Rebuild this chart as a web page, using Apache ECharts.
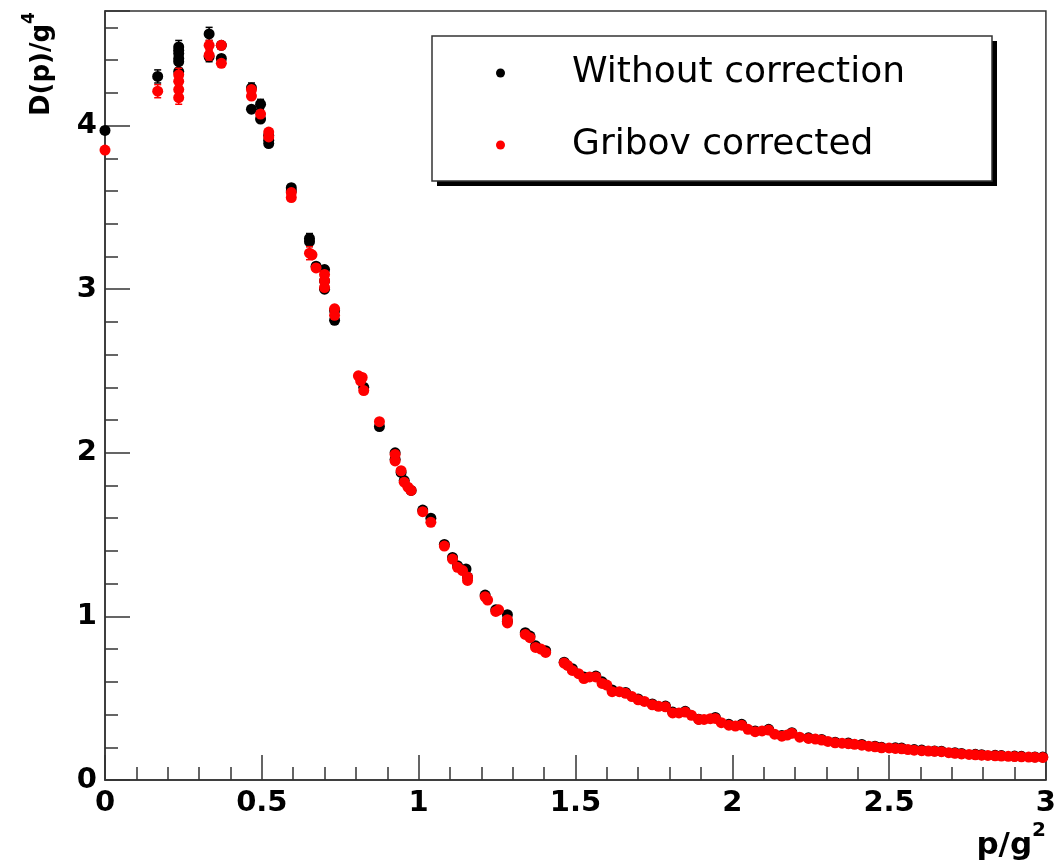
<!DOCTYPE html>
<html>
<head>
<meta charset="utf-8">
<script src="https://cdn.jsdelivr.net/npm/echarts@6/dist/echarts.min.js"></script>
<style>
  html, body { margin: 0; padding: 0; background: #fff; }
  #chart { width: 1059px; height: 862px; }
</style>
</head>
<body>
<div id="chart"></div>
<script>
// Each point: [p/g^2, D(p)/g^4, statistical error]
const withoutCorrection = [
  [0.000, 3.97, 0.02],
  [0.168, 4.30, 0.04],
  [0.235, 4.48, 0.04], [0.235, 4.46, 0.04], [0.235, 4.44, 0.04], [0.235, 4.41, 0.04], [0.235, 4.39, 0.04], [0.235, 4.33, 0.04],
  [0.332, 4.56, 0.04], [0.332, 4.42, 0.03],
  [0.371, 4.49, 0.02], [0.371, 4.41, 0.02],
  [0.467, 4.23, 0.03], [0.467, 4.10, 0.02],
  [0.496, 4.13, 0.03], [0.496, 4.04, 0.02],
  [0.522, 3.94, 0.02], [0.522, 3.91, 0.02], [0.522, 3.89, 0.02],
  [0.594, 3.62, 0.02], [0.594, 3.60, 0.02],
  [0.652, 3.31, 0.03], [0.652, 3.29, 0.03],
  [0.673, 3.14, 0.02],
  [0.700, 3.12, 0.02], [0.700, 3.05, 0.02], [0.700, 3.00, 0.02],
  [0.732, 2.87, 0.02], [0.732, 2.81, 0.02],
  [0.815, 2.46, 0.02], [0.825, 2.40, 0.02],
  [0.875, 2.16, 0.01],
  [0.925, 2.00, 0.01], [0.925, 1.96, 0.01],
  [0.944, 1.88, 0.01], [0.954, 1.83, 0.01], [0.976, 1.77, 0.01],
  [1.013, 1.65, 0.01], [1.039, 1.60, 0.01],
  [1.082, 1.44, 0.01], [1.108, 1.36, 0.01], [1.124, 1.31, 0.01], [1.151, 1.29, 0.01], [1.156, 1.24, 0.01],
  [1.212, 1.13, 0.01], [1.246, 1.04, 0.01], [1.283, 1.01, 0.01], [1.283, 0.97, 0.01],
  [1.340, 0.90, 0.01], [1.355, 0.88, 0.01], [1.373, 0.82, 0.01], [1.405, 0.79, 0.01],
  [1.464, 0.72, 0], [1.490, 0.68, 0], [1.527, 0.63, 0], [1.565, 0.635, 0], [1.585, 0.60, 0],
  [1.617, 0.55, 0], [1.660, 0.535, 0], [1.700, 0.495, 0], [1.745, 0.465, 0], [1.787, 0.452, 0],
  [1.810, 0.415, 0], [1.850, 0.42, 0], [1.893, 0.372, 0], [1.946, 0.382, 0], [1.989, 0.34, 0],
  [2.030, 0.34, 0], [2.073, 0.30, 0], [2.116, 0.31, 0], [2.158, 0.272, 0], [2.190, 0.289, 0],
  [2.243, 0.258, 0], [2.285, 0.248, 0], [2.328, 0.231, 0], [2.370, 0.226, 0], [2.413, 0.217, 0],
  [2.455, 0.207, 0], [2.476, 0.20, 0], [2.520, 0.197, 0], [2.540, 0.195, 0], [2.580, 0.186, 0],
  [2.604, 0.183, 0], [2.645, 0.178, 0], [2.667, 0.176, 0], [2.710, 0.167, 0], [2.731, 0.162, 0],
  [2.775, 0.157, 0], [2.795, 0.155, 0], [2.838, 0.151, 0], [2.858, 0.149, 0], [2.900, 0.146, 0],
  [2.922, 0.145, 0], [2.965, 0.141, 0], [2.990, 0.140, 0]
];

const gribovCorrected = [
  [0.000, 3.85, 0.01],
  [0.168, 4.21, 0.04],
  [0.235, 4.31, 0.04], [0.235, 4.27, 0.04], [0.235, 4.22, 0.04], [0.235, 4.17, 0.04],
  [0.332, 4.49, 0.03], [0.332, 4.43, 0.03],
  [0.371, 4.49, 0.02], [0.371, 4.38, 0.02],
  [0.467, 4.22, 0.02], [0.467, 4.18, 0.02],
  [0.496, 4.07, 0.02],
  [0.522, 3.96, 0.02], [0.522, 3.93, 0.02],
  [0.594, 3.59, 0.02], [0.594, 3.56, 0.02],
  [0.652, 3.22, 0.04], [0.660, 3.21, 0.02],
  [0.673, 3.13, 0.02],
  [0.700, 3.09, 0.02], [0.700, 3.05, 0.02], [0.700, 3.01, 0.02],
  [0.732, 2.88, 0.02], [0.732, 2.84, 0.02],
  [0.808, 2.47, 0.02], [0.815, 2.44, 0.02], [0.820, 2.46, 0.02], [0.825, 2.38, 0.02],
  [0.875, 2.19, 0.01],
  [0.925, 1.99, 0.01], [0.925, 1.95, 0.01],
  [0.944, 1.89, 0.01], [0.954, 1.82, 0.01], [0.966, 1.79, 0.01], [0.976, 1.77, 0.01],
  [1.013, 1.64, 0.01], [1.039, 1.575, 0.01],
  [1.082, 1.43, 0.01], [1.108, 1.35, 0.01], [1.124, 1.30, 0.01], [1.140, 1.28, 0.01], [1.156, 1.24, 0.01], [1.156, 1.22, 0.01],
  [1.212, 1.12, 0.01], [1.220, 1.10, 0.01], [1.246, 1.03, 0.01], [1.255, 1.04, 0.01], [1.283, 0.98, 0.01], [1.283, 0.96, 0.01],
  [1.340, 0.89, 0.01], [1.355, 0.87, 0.01], [1.373, 0.81, 0.01], [1.390, 0.80, 0.01], [1.405, 0.78, 0.01],
  [1.464, 0.715, 0], [1.475, 0.70, 0], [1.490, 0.67, 0], [1.510, 0.65, 0], [1.527, 0.62, 0],
  [1.545, 0.63, 0], [1.565, 0.63, 0], [1.585, 0.59, 0], [1.600, 0.58, 0], [1.617, 0.54, 0],
  [1.640, 0.54, 0], [1.660, 0.53, 0], [1.680, 0.51, 0], [1.700, 0.49, 0], [1.720, 0.48, 0],
  [1.745, 0.46, 0], [1.765, 0.45, 0], [1.787, 0.447, 0], [1.810, 0.41, 0], [1.830, 0.41, 0],
  [1.850, 0.415, 0], [1.870, 0.395, 0], [1.893, 0.37, 0], [1.910, 0.37, 0], [1.930, 0.375, 0],
  [1.946, 0.376, 0], [1.965, 0.35, 0], [1.989, 0.335, 0], [2.010, 0.33, 0], [2.030, 0.335, 0],
  [2.050, 0.31, 0], [2.073, 0.295, 0], [2.095, 0.30, 0], [2.116, 0.305, 0], [2.135, 0.28, 0],
  [2.158, 0.268, 0], [2.175, 0.275, 0], [2.190, 0.285, 0], [2.215, 0.262, 0], [2.243, 0.254, 0],
  [2.265, 0.25, 0], [2.285, 0.244, 0], [2.305, 0.236, 0], [2.328, 0.227, 0], [2.350, 0.225, 0],
  [2.370, 0.222, 0], [2.390, 0.218, 0], [2.413, 0.213, 0], [2.435, 0.207, 0], [2.455, 0.203, 0],
  [2.476, 0.197, 0], [2.500, 0.196, 0], [2.520, 0.193, 0], [2.540, 0.191, 0], [2.560, 0.186, 0],
  [2.580, 0.182, 0], [2.604, 0.179, 0], [2.625, 0.177, 0], [2.645, 0.175, 0], [2.667, 0.173, 0],
  [2.690, 0.167, 0], [2.710, 0.163, 0], [2.731, 0.159, 0], [2.755, 0.156, 0], [2.775, 0.154, 0],
  [2.795, 0.152, 0], [2.815, 0.150, 0], [2.838, 0.148, 0], [2.858, 0.146, 0], [2.880, 0.145, 0],
  [2.900, 0.143, 0], [2.922, 0.142, 0], [2.945, 0.140, 0], [2.965, 0.139, 0], [2.990, 0.138, 0]
];

const seriesNames = ['Without correction', 'Gribov corrected'];
const seriesColors = ['#000000', '#ff0000'];

const xRange = [0, 3];
const yRange = [0, 4.7];
const xMajorStep = 0.5;
const yMajorStep = 1;
const yMinorStep = 0.2;

const FONT = '"DejaVu Sans", sans-serif';
const AXIS_COLOR = '#333';

// vertical error bar with small end caps
function errorBarItem(color) {
  return function (params, api) {
    const x = api.value(0), y = api.value(1), e = api.value(2);
    if (!e) return null;
    const top = api.coord([x, y + e]);
    const bot = api.coord([x, y - e]);
    const cap = 3.5;
    const style = { stroke: color, lineWidth: 1.5 };
    return {
      type: 'group',
      children: [
        { type: 'line', shape: { x1: top[0], y1: top[1], x2: bot[0], y2: bot[1] }, style },
        { type: 'line', shape: { x1: top[0] - cap, y1: top[1], x2: top[0] + cap, y2: top[1] }, style },
        { type: 'line', shape: { x1: bot[0] - cap, y1: bot[1], x2: bot[0] + cap, y2: bot[1] }, style }
      ]
    };
  };
}

const datasets = [withoutCorrection, gribovCorrected];
const series = [];
datasets.forEach(function (data, i) {
  series.push({
    type: 'custom',
    renderItem: errorBarItem(seriesColors[i]),
    data: data,
    encode: { x: 0, y: 1 },
    z: 2 + i * 2,
    silent: true
  });
  series.push({
    name: seriesNames[i],
    type: 'scatter',
    data: data.map(function (d) { return [d[0], d[1]]; }),
    symbol: 'circle',
    symbolSize: 11,
    itemStyle: { color: seriesColors[i], opacity: 1 },
    z: 3 + i * 2
  });
});

const chart = echarts.init(document.getElementById('chart'));
chart.setOption({
  backgroundColor: '#ffffff',
  animation: false,
  grid: {
    left: 105, right: 11, top: 11, bottom: 82,
    show: true, borderColor: AXIS_COLOR, borderWidth: 1.5, backgroundColor: 'transparent'
  },
  xAxis: {
    type: 'value',
    min: xRange[0], max: xRange[1], interval: xMajorStep,
    axisLine: { show: true, onZero: false, lineStyle: { color: AXIS_COLOR, width: 1.5 } },
    axisTick: { show: true, inside: true, length: 25, lineStyle: { color: AXIS_COLOR, width: 1.5 } },
    minorTick: { show: true, splitNumber: 5, length: 13, lineStyle: { color: AXIS_COLOR, width: 1.5 } },
    splitLine: { show: false },
    axisLabel: {
      margin: 9, color: '#000', fontFamily: FONT, fontWeight: 'bold', fontSize: 29,
      showMinLabel: true, showMaxLabel: true
    }
  },
  yAxis: [
    {
      type: 'value',
      min: yRange[0], max: yRange[1], interval: yMajorStep,
      axisLine: { show: true, onZero: false, lineStyle: { color: AXIS_COLOR, width: 1.5 } },
      axisTick: { show: true, inside: true, length: 25, lineStyle: { color: AXIS_COLOR, width: 1.5 } },
      splitLine: { show: false },
      axisLabel: {
        margin: 8, color: '#000', fontFamily: FONT, fontWeight: 'bold', fontSize: 29,
        formatter: function (v) { return Number.isInteger(v) ? String(v) : ''; }
      }
    },
    {
      type: 'value', position: 'left',
      min: yRange[0], max: yRange[1], interval: yMinorStep,
      axisLine: { show: false },
      axisTick: { show: true, inside: true, length: 13, lineStyle: { color: AXIS_COLOR, width: 1.5 } },
      splitLine: { show: false },
      axisLabel: { show: false }
    }
  ],
  legend: {
    orient: 'vertical',
    left: 496, top: 53,
    padding: 0,
    itemWidth: 9, itemHeight: 9, itemGap: 32,
    icon: 'circle',
    selectedMode: false,
    data: seriesNames,
    textStyle: { fontFamily: FONT, fontSize: 36, color: '#000', lineHeight: 40, padding: [0, 0, 0, 62] },
    z: 10
  },
  graphic: [
    // legend frame with drop shadow
    { type: 'rect', z: 8, shape: { x: 437, y: 41, width: 560, height: 145 }, style: { fill: '#000' } },
    { type: 'rect', z: 9, shape: { x: 432, y: 36, width: 560, height: 145 },
      style: { fill: '#fff', stroke: AXIS_COLOR, lineWidth: 1.5 } },
    // axis titles
    {
      type: 'text', z: 10, x: 1046, y: 861,
      style: {
        text: '{m|p/g}{s|2}', align: 'right', verticalAlign: 'bottom',
        rich: {
          m: { fontFamily: FONT, fontWeight: 'bold', fontSize: 31, fill: '#000', verticalAlign: 'bottom', lineHeight: 40 },
          s: { fontFamily: FONT, fontWeight: 'bold', fontSize: 20, fill: '#000', verticalAlign: 'top', lineHeight: 20 }
        }
      }
    },
    {
      type: 'text', z: 10, x: 38, y: 116, rotation: Math.PI / 2,
      style: {
        text: '{m|D(p)/g}{s|4}', align: 'left', verticalAlign: 'middle',
        rich: {
          m: { fontFamily: FONT, fontWeight: 'bold', fontSize: 26, fill: '#000', verticalAlign: 'bottom', lineHeight: 34 },
          s: { fontFamily: FONT, fontWeight: 'bold', fontSize: 17, fill: '#000', verticalAlign: 'top', lineHeight: 17 }
        }
      }
    }
  ],
  series: series
});
</script>
</body>
</html>
